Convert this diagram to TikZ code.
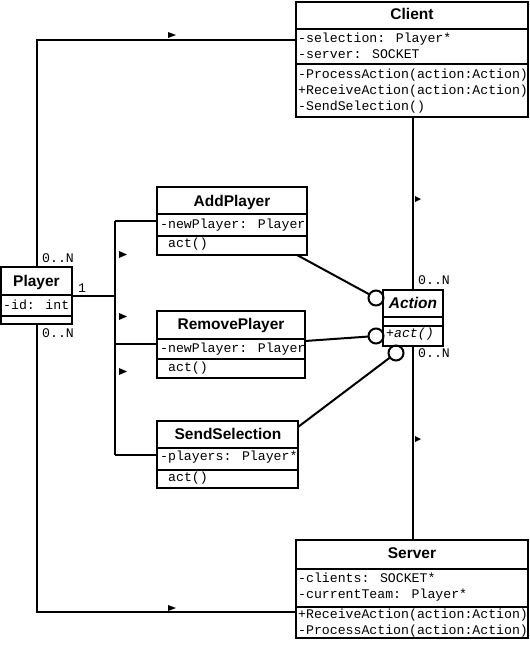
\documentclass[tikz,border=0pt]{standalone}
\usepackage{fontspec}
\setmainfont{Liberation Sans}
\newfontfamily\monofam{Liberation Mono}
\newcommand\mf{\monofam\fontsize{13.2}{16}\selectfont}
\newcommand\tf{\fontsize{15.5}{18}\selectfont\bfseries}
\begin{document}
\begin{tikzpicture}[x=1pt,y=-1pt,
  box/.style={draw, line width=2pt, inner sep=0pt, outer sep=0pt, anchor=north west, fill=white},
  sep/.style={line width=2pt},
  wire/.style={line width=2pt},
  mono/.style={font=\mf, anchor=base west, inner sep=0pt},
  ttl/.style={font=\tf, anchor=base, inner sep=0pt},
  lolly/.style={circle, draw, line width=2pt, fill=white, minimum size=15pt, inner sep=0pt, outer sep=0pt},
  tri/.style={fill=black}
]
\useasboundingbox (0,0) rectangle (530,646);

\coordinate (clientIn) at (296,40);
\coordinate (serverIn) at (296,612);
\coordinate (fork) at (115,296);
\coordinate (forkTop) at (115,221);
\coordinate (forkMid) at (115,344);
\coordinate (forkBot) at (115,455);

% ---------- class boxes ----------
\node[box, minimum width=232pt, minimum height=115pt] (client) at (296,2) {};
\node[box, minimum width=71pt, minimum height=57pt] (player) at (1,267) {};
\node[box, minimum width=150pt, minimum height=68pt] (addp) at (157,187) {};
\node[box, minimum width=148pt, minimum height=67pt] (remp) at (157,311) {};
\node[box, minimum width=141pt, minimum height=67pt] (sends) at (157,421) {};
\node[box, minimum width=60pt, minimum height=56pt] (action) at (383,290) {};
\node[box, minimum width=232pt, minimum height=98pt] (server) at (296,540) {};

% ---------- connectors ----------
\draw[wire] (player.north) |- (clientIn);
\draw[wire] (player.south) |- (serverIn);
\draw[wire] (player.east |- fork) -- (fork);
\draw[wire] (forkTop) -- (forkBot);
\draw[wire] (forkTop) -- (addp.west |- forkTop);
\draw[wire] (forkMid) -- (remp.west |- forkMid);
\draw[wire] (forkBot) -- (sends.west |- forkBot);
\draw[wire] (client.south -| 413,0) -- (action.north -| 413,0);
\draw[wire] (action.south -| 413,0) -- (server.north -| 413,0);

% lollipops
\node[lolly] (l1) at (376,298) {};
\node[lolly] (l2) at (376,336) {};
\node[lolly] (l3) at (396,353) {};
\coordinate (a1) at (297,255);
\coordinate (a2) at (305,341);
\coordinate (a3) at (298,427);
\draw[wire] (a1) -- (l1);
\draw[wire] (a2) -- (l2);
\draw[wire] (a3) -- (l3);
\draw[line width=2pt] (action.north west) rectangle (action.south east);

% ---------- compartments ----------
\draw[sep] (296,29) -- (528,29);
\draw[sep] (296,64) -- (528,64);
\draw[sep] (1,295) -- (72,295);
\draw[sep] (1,316) -- (72,316);
\draw[sep] (157,214) -- (307,214);
\draw[sep] (157,236) -- (307,236);
\draw[sep] (157,339) -- (305,339);
\draw[sep] (157,359) -- (305,359);
\draw[sep] (157,448) -- (298,448);
\draw[sep] (157,470) -- (298,470);
\draw[sep] (383,317) -- (443,317);
\draw[sep] (383,326) -- (443,326);
\draw[sep] (296,569) -- (528,569);
\draw[sep] (296,607) -- (528,607);

% ---------- texts ----------
\node[ttl] (tClient) at (412,19) {Client};
\node[mono] (c1) at (298,42) {-selection: Player*};
\node[mono] (c2) at (298,58) {-server: SOCKET};
\node[mono] (c3) at (298,78) {-ProcessAction(action:Action)};
\node[mono] (c4) at (298,94) {+ReceiveAction(action:Action)};
\node[mono] (c5) at (298,110) {-SendSelection()};

\node[ttl] (tPlayer) at (36.5,286) {Player};
\node[mono] (p1) at (3,309) {-id: int};

\node[ttl] (tAdd) at (232,206) {AddPlayer};
\node[mono] (ad1) at (160,228) {-newPlayer: Player};
\node[mono] (ad2) at (168,247) {act()};

\node[ttl] (tRem) at (231,329) {RemovePlayer};
\node[mono] (rm1) at (160,352) {-newPlayer: Player};
\node[mono] (rm2) at (168,371) {act()};

\node[ttl] (tSend) at (228,439) {SendSelection};
\node[mono] (sd1) at (160,460) {-players: Player*};
\node[mono] (sd2) at (168,481) {act()};

\node[ttl, font=\tf\itshape] (tAct) at (413,308) {Action};
\node[mono, font=\mf\itshape] (ac1) at (386,337) {+act()};

\node[ttl] (tServer) at (412,558) {Server};
\node[mono] (s1) at (298,582) {-clients: SOCKET*};
\node[mono] (s2) at (298,598) {-currentTeam: Player*};
\node[mono] (s3) at (298,618) {+ReceiveAction(action:Action)};
\node[mono] (s4) at (298,634) {-ProcessAction(action:Action)};

% multiplicities
\node[mono] (m1) at (42,262) {0..N};
\node[mono] (m2) at (42,337) {0..N};
\node[mono] (m3) at (78,292) {1};
\node[mono] (m4) at (418,284) {0..N};
\node[mono] (m5) at (418,357) {0..N};

% direction triangles
\fill[tri] (168,32) -- (176,35) -- (168,38) -- cycle;
\fill[tri] (168,605) -- (176,608) -- (168,611) -- cycle;
\fill[tri] (119,251) -- (127,254.5) -- (119,258) -- cycle;
\fill[tri] (119,313) -- (127,316.5) -- (119,320) -- cycle;
\fill[tri] (119,368) -- (127,371.5) -- (119,375) -- cycle;
\fill[tri] (415,196) -- (421,199) -- (415,202) -- cycle;
\fill[tri] (415,436) -- (421,439) -- (415,442) -- cycle;
\end{tikzpicture}
\end{document}
